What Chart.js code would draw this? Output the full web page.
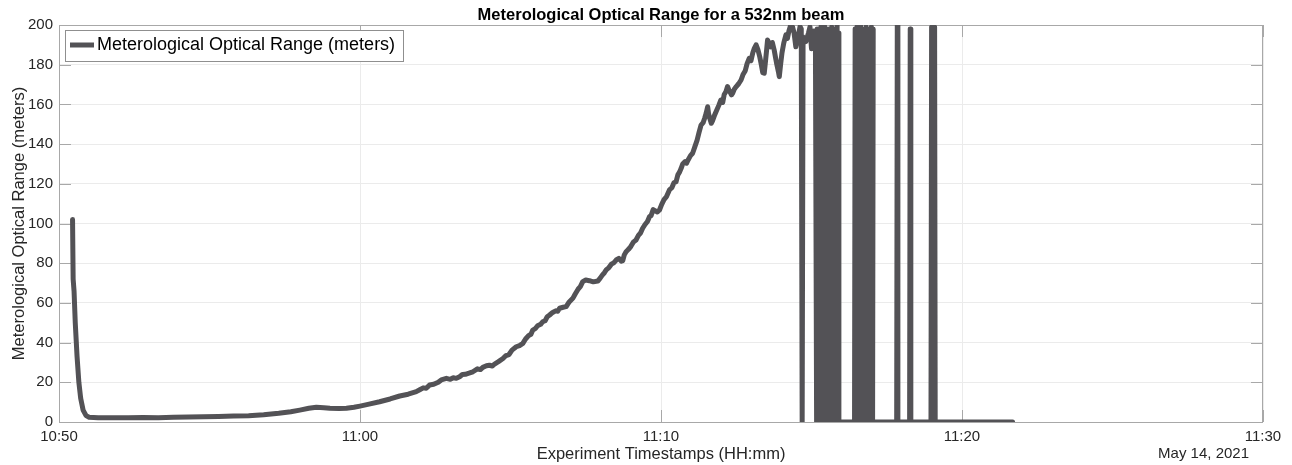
<!DOCTYPE html>
<html>
<head>
<meta charset="utf-8">
<script src="https://cdn.jsdelivr.net/npm/chart.js@4.4.1/dist/chart.umd.min.js"></script>
<style>
  html, body { margin: 0; padding: 0; background: #fff; }
  #wrap { width: 1292px; height: 465px; position: relative; }
</style>
</head>
<body>
<div id="wrap"><canvas id="morChart"></canvas></div>
<script>
'use strict';

// minutes after 10:50 (May 14, 2021)
const times = [
  0.45, 0.47, 0.50, 0.54, 0.60, 0.66, 0.72, 0.80, 0.90, 1.00,
  1.30, 1.80, 2.30, 2.80, 3.30, 3.80, 4.30, 4.80, 5.30, 5.80,
  6.30, 6.80, 7.30, 7.70, 8.00, 8.30, 8.55, 8.80, 9.00, 9.30,
  9.55, 9.80, 10.00, 10.30, 10.65, 11.00, 11.32, 11.60, 11.87, 12.00,
  12.10, 12.20, 12.31, 12.45, 12.60, 12.70, 12.87, 13.00, 13.10, 13.20,
  13.31, 13.40, 13.50, 13.62, 13.75, 13.90, 14.00, 14.08, 14.20, 14.30,
  14.40, 14.47, 14.60, 14.75, 14.85, 14.95, 15.05, 15.19, 15.30, 15.41,
  15.50, 15.60, 15.68, 15.74, 15.82, 15.90, 16.00, 16.07, 16.15, 16.22,
  16.30, 16.40, 16.50, 16.57, 16.63, 16.75, 16.85, 16.95, 17.07, 17.15,
  17.25, 17.32, 17.40, 17.50, 17.62, 17.75, 17.90, 17.98, 18.05, 18.12,
  18.18, 18.27, 18.35, 18.43, 18.51, 18.60, 18.68, 18.73, 18.78, 18.84,
  18.92, 19.00, 19.08, 19.17, 19.25, 19.32, 19.39, 19.47, 19.55, 19.62,
  19.67, 19.74, 19.80, 19.88, 19.95, 20.02, 20.10, 20.18, 20.28, 20.36,
  20.43, 20.50, 20.56, 20.62, 20.67, 20.72, 20.80, 20.85, 20.90, 20.98,
  21.05, 21.12, 21.20, 21.26, 21.33, 21.40, 21.45, 21.50, 21.55, 21.58,
  21.62, 21.67, 21.72, 21.78, 21.85, 21.92, 21.99, 22.05, 22.10, 22.16,
  22.21, 22.26, 22.30, 22.34, 22.38, 22.44, 22.50, 22.58, 22.66, 22.73,
  22.80, 22.86, 22.93, 22.99, 23.05, 23.10, 23.16, 23.22, 23.28, 23.33,
  23.38, 23.43, 23.47, 23.50, 23.54, 23.60, 23.65, 23.70, 23.76, 23.80,
  23.85, 23.90, 23.93, 23.97, 24.02, 24.08, 24.15, 24.20, 24.25, 24.30,
  24.37, 24.42, 24.48, 24.53, 24.58, 24.62, 24.66, 24.69, 24.72, 24.81,
  24.90, 24.95, 25.00, 25.08, 25.13,
  // first burst of dropouts (one up-stroke per reading, gaps keep the strokes separate)
  25.17, 25.19, 25.20, 25.23, 25.25, 25.26, 25.29, 25.31, 25.32,
  25.35, 25.37, 25.38, 25.41, 25.43, 25.44, 25.47, 25.49, 25.50,
  25.53, 25.55, 25.56, 25.59, 25.61, 25.62, 25.65, 25.67, 25.68,
  25.71, 25.73, 25.74, 25.77, 25.79, 25.80, 25.83, 25.85, 25.86,
  25.89, 25.91, 25.92,
  25.93, 26.00, 26.30,
  // second burst
  26.43, 26.45, 26.46, 26.49, 26.51, 26.52, 26.55, 26.57, 26.58,
  26.61, 26.63, 26.64, 26.67, 26.69, 26.70, 26.73, 26.75, 26.76,
  26.79, 26.81, 26.82, 26.85, 26.87, 26.88, 26.91, 26.93, 26.94,
  26.97, 26.99, 27.00, 27.03, 27.05, 27.06,
  27.08, 27.50, 27.83, 27.85, 27.87, 28.00, 28.26, 28.28, 28.30, 28.60,
  28.97, 28.99, 29.04, 29.09, 29.11, 30.00, 31.00, 31.68
];

// meteorological optical range, meters
const mor = [
  102, 72, 66, 50, 33, 20, 12, 6, 3.2, 2.4,
  2.1, 2.2, 2.1, 2.3, 2.2, 2.4, 2.5, 2.7, 2.8, 3.0,
  3.2, 3.7, 4.4, 5.2, 6.0, 6.9, 7.4, 7.2, 6.9, 6.8,
  6.9, 7.4, 8.0, 9.0, 10.2, 11.6, 13.1, 14.0, 15.3, 16.4,
  17.2, 17.0, 18.6, 19.0, 20.0, 21.2, 22.0, 21.5, 22.3, 22.0,
  22.8, 23.9, 24.0, 24.6, 25.3, 26.8, 26.4, 27.5, 28.3, 28.6,
  28.2, 29.2, 30.4, 32, 33.5, 34.0, 36.2, 37.9, 38.5, 39.6,
  41.8, 43.5, 44.2, 46.3, 47.0, 48.5, 49.2, 50.5, 51.0, 53.0,
  53.9, 55.2, 56, 55.8, 57.3, 57.8, 58.1, 60.5, 62.3, 64.5,
  67, 68.2, 70.7, 71.5, 71.2, 70.6, 71.0, 72.5, 74, 75.2,
  76.6, 77.8, 79.5, 80.2, 81.6, 82.4, 81.0, 81.3, 84.2, 85.8,
  87.0, 88.5, 90.6, 91.7, 94.0, 95.2, 97.6, 99.5, 101, 103.5,
  104, 107, 106.5, 105.8, 106.8, 109.5, 112, 113.5, 116.9, 118.0,
  120.5, 121, 124.5, 126, 127.8, 130, 131.2, 130.4, 132, 134.2,
  135.4, 138.5, 142, 145.6, 149.6, 150.8, 153, 155.5, 158.8, 155.4,
  153, 150.5, 152, 154.6, 157, 159.5, 162.2, 161.0, 165, 166.5,
  169, 167.2, 166, 164.8, 165.6, 167.8, 169, 170.4, 172.3, 175.2,
  177, 180.5, 183.2, 182.0, 186, 188.2, 190, 187.6, 184, 180.2,
  176, 175.7, 181.5, 186, 192.4, 190.6, 189, 191.2, 187.4, 184.0,
  180, 176.5, 174, 179.6, 186, 191.0, 195, 193.2, 197, 199.5,
  199, 196.0, 189, 192.4, 196, 199.2, 198, 0, 194, 191.6,
  196, 199, 188, 197, 195,
  0, 198, null, 0, 196, null, 0, 199, null,
  0, 197, null, 0, 200, null, 0, 195, null,
  0, 198, null, 0, 197, null, 0, 199, null,
  0, 196, null, 0, 198, null, 0, 200, null,
  0, 196, null,
  0, 0, 0,
  0, 198, null, 0, 199, null, 0, 197, null,
  0, 200, null, 0, 198, null, 0, 196, null,
  0, 199, null, 0, 194, null, 0, 198, null,
  0, 199, null, 0, 198, null,
  0, 0, 0, 200, 0, 0, 0, 198, 0, 0,
  0, 199, 200, 199, 0, 0, 0, 0
];

const xTickLabels = ['10:50', '11:00', '11:10', '11:20', '11:30'];
const chartTitle = 'Meterological Optical Range for a 532nm beam';
const seriesLabel = 'Meterological Optical Range (meters)';
const xTitle = 'Experiment Timestamps (HH:mm)';
const yTitle = 'Meterological Optical Range (meters)';
const dateLabel = 'May 14, 2021';

const FONT = '"Liberation Sans", Arial, Helvetica, sans-serif';
const lineColor = '#535256';
const axisColor = '#a8a8a8';
const textColor = '#262626';

// MATLAB-like box, inward ticks, title, labels and legend
const decorPlugin = {
  id: 'decor',
  beforeDatasetsDraw(chart) {
    const { ctx, chartArea: a, scales } = chart;
    ctx.save();
    ctx.strokeStyle = axisColor;
    ctx.lineWidth = 1;
    ctx.strokeRect(a.left + 0.5, a.top + 0.5, a.right - a.left - 1, a.bottom - a.top);
    const tl = 12;
    ctx.beginPath();
    scales.y.ticks.forEach(t => {
      const y = Math.round(scales.y.getPixelForValue(t.value)) + 0.5;
      ctx.moveTo(a.left, y); ctx.lineTo(a.left + tl, y);
      ctx.moveTo(a.right, y); ctx.lineTo(a.right - tl, y);
    });
    scales.x.ticks.forEach(t => {
      const x = Math.round(scales.x.getPixelForValue(t.value)) + 0.5;
      ctx.moveTo(x, a.bottom); ctx.lineTo(x, a.bottom - tl);
      ctx.moveTo(x, a.top); ctx.lineTo(x, a.top + tl);
    });
    ctx.stroke();
    ctx.restore();
  },
  afterDraw(chart) {
    const { ctx, chartArea: a } = chart;
    const cx = (a.left + a.right) / 2;
    const cy = (a.top + a.bottom) / 2;
    ctx.save();
    ctx.fillStyle = '#000';
    ctx.textAlign = 'center';
    ctx.textBaseline = 'alphabetic';
    ctx.font = 'bold 16.5px ' + FONT;
    ctx.fillText(chartTitle, cx, 20);

    ctx.fillStyle = textColor;
    ctx.font = '16.5px ' + FONT;
    ctx.fillText(xTitle, cx, 459);

    ctx.font = '15px ' + FONT;
    ctx.textAlign = 'right';
    ctx.fillText(dateLabel, 1249, 458);

    ctx.save();
    ctx.translate(19, cy);
    ctx.rotate(-Math.PI / 2);
    ctx.textAlign = 'center';
    ctx.textBaseline = 'middle';
    ctx.font = '16.5px ' + FONT;
    ctx.fillText(yTitle, 0, 0);
    ctx.restore();

    // legend box in the upper left corner
    const bx = 65.5, by = 30.5, bw = 338, bh = 31;
    ctx.fillStyle = '#fff';
    ctx.fillRect(bx, by, bw, bh);
    ctx.strokeStyle = '#8f8f8f';
    ctx.lineWidth = 1;
    ctx.strokeRect(bx, by, bw, bh);
    ctx.strokeStyle = lineColor;
    ctx.lineWidth = 5;
    ctx.beginPath();
    ctx.moveTo(70, 45); ctx.lineTo(94, 45);
    ctx.stroke();
    ctx.fillStyle = '#000';
    ctx.textAlign = 'left';
    ctx.textBaseline = 'middle';
    ctx.font = '18px ' + FONT;
    ctx.fillText(seriesLabel, 97, 45);
    ctx.restore();
  }
};

const ctx = document.getElementById('morChart').getContext('2d');
const morChart = new Chart(ctx, {
  type: 'line',
  data: {
    datasets: [{
      label: seriesLabel,
      data: times.map((t, i) => ({ x: t, y: mor[i] })),
      borderColor: lineColor,
      backgroundColor: lineColor,
      borderWidth: 5,
      borderJoinStyle: 'round',
      borderCapStyle: 'round',
      pointRadius: 0,
      tension: 0,
      spanGaps: false,
      fill: false
    }]
  },
  options: {
    responsive: true,
    maintainAspectRatio: false,
    animation: false,
    events: [],
    layout: { padding: { top: 25, right: 29, left: 0, bottom: 0 } },
    plugins: {
      legend: { display: false },
      title: { display: false },
      tooltip: { enabled: false }
    },
    scales: {
      x: {
        type: 'linear',
        min: 0,
        max: 40,
        afterFit: scale => { scale.height = 43; },
        border: { display: false },
        grid: { color: '#ebebeb', drawTicks: false },
        ticks: {
          stepSize: 10,
          autoSkip: false,
          maxRotation: 0,
          padding: 6,
          color: textColor,
          font: { family: FONT, size: 15 },
          callback: v => xTickLabels[Math.round(v / 10)]
        }
      },
      y: {
        min: 0,
        max: 200,
        afterFit: scale => { scale.width = 59; },
        border: { display: false },
        grid: { color: '#ebebeb', drawTicks: false },
        ticks: {
          stepSize: 20,
          padding: 6,
          color: textColor,
          font: { family: FONT, size: 15 }
        }
      }
    }
  },
  plugins: [decorPlugin]
});
</script>
</body>
</html>
